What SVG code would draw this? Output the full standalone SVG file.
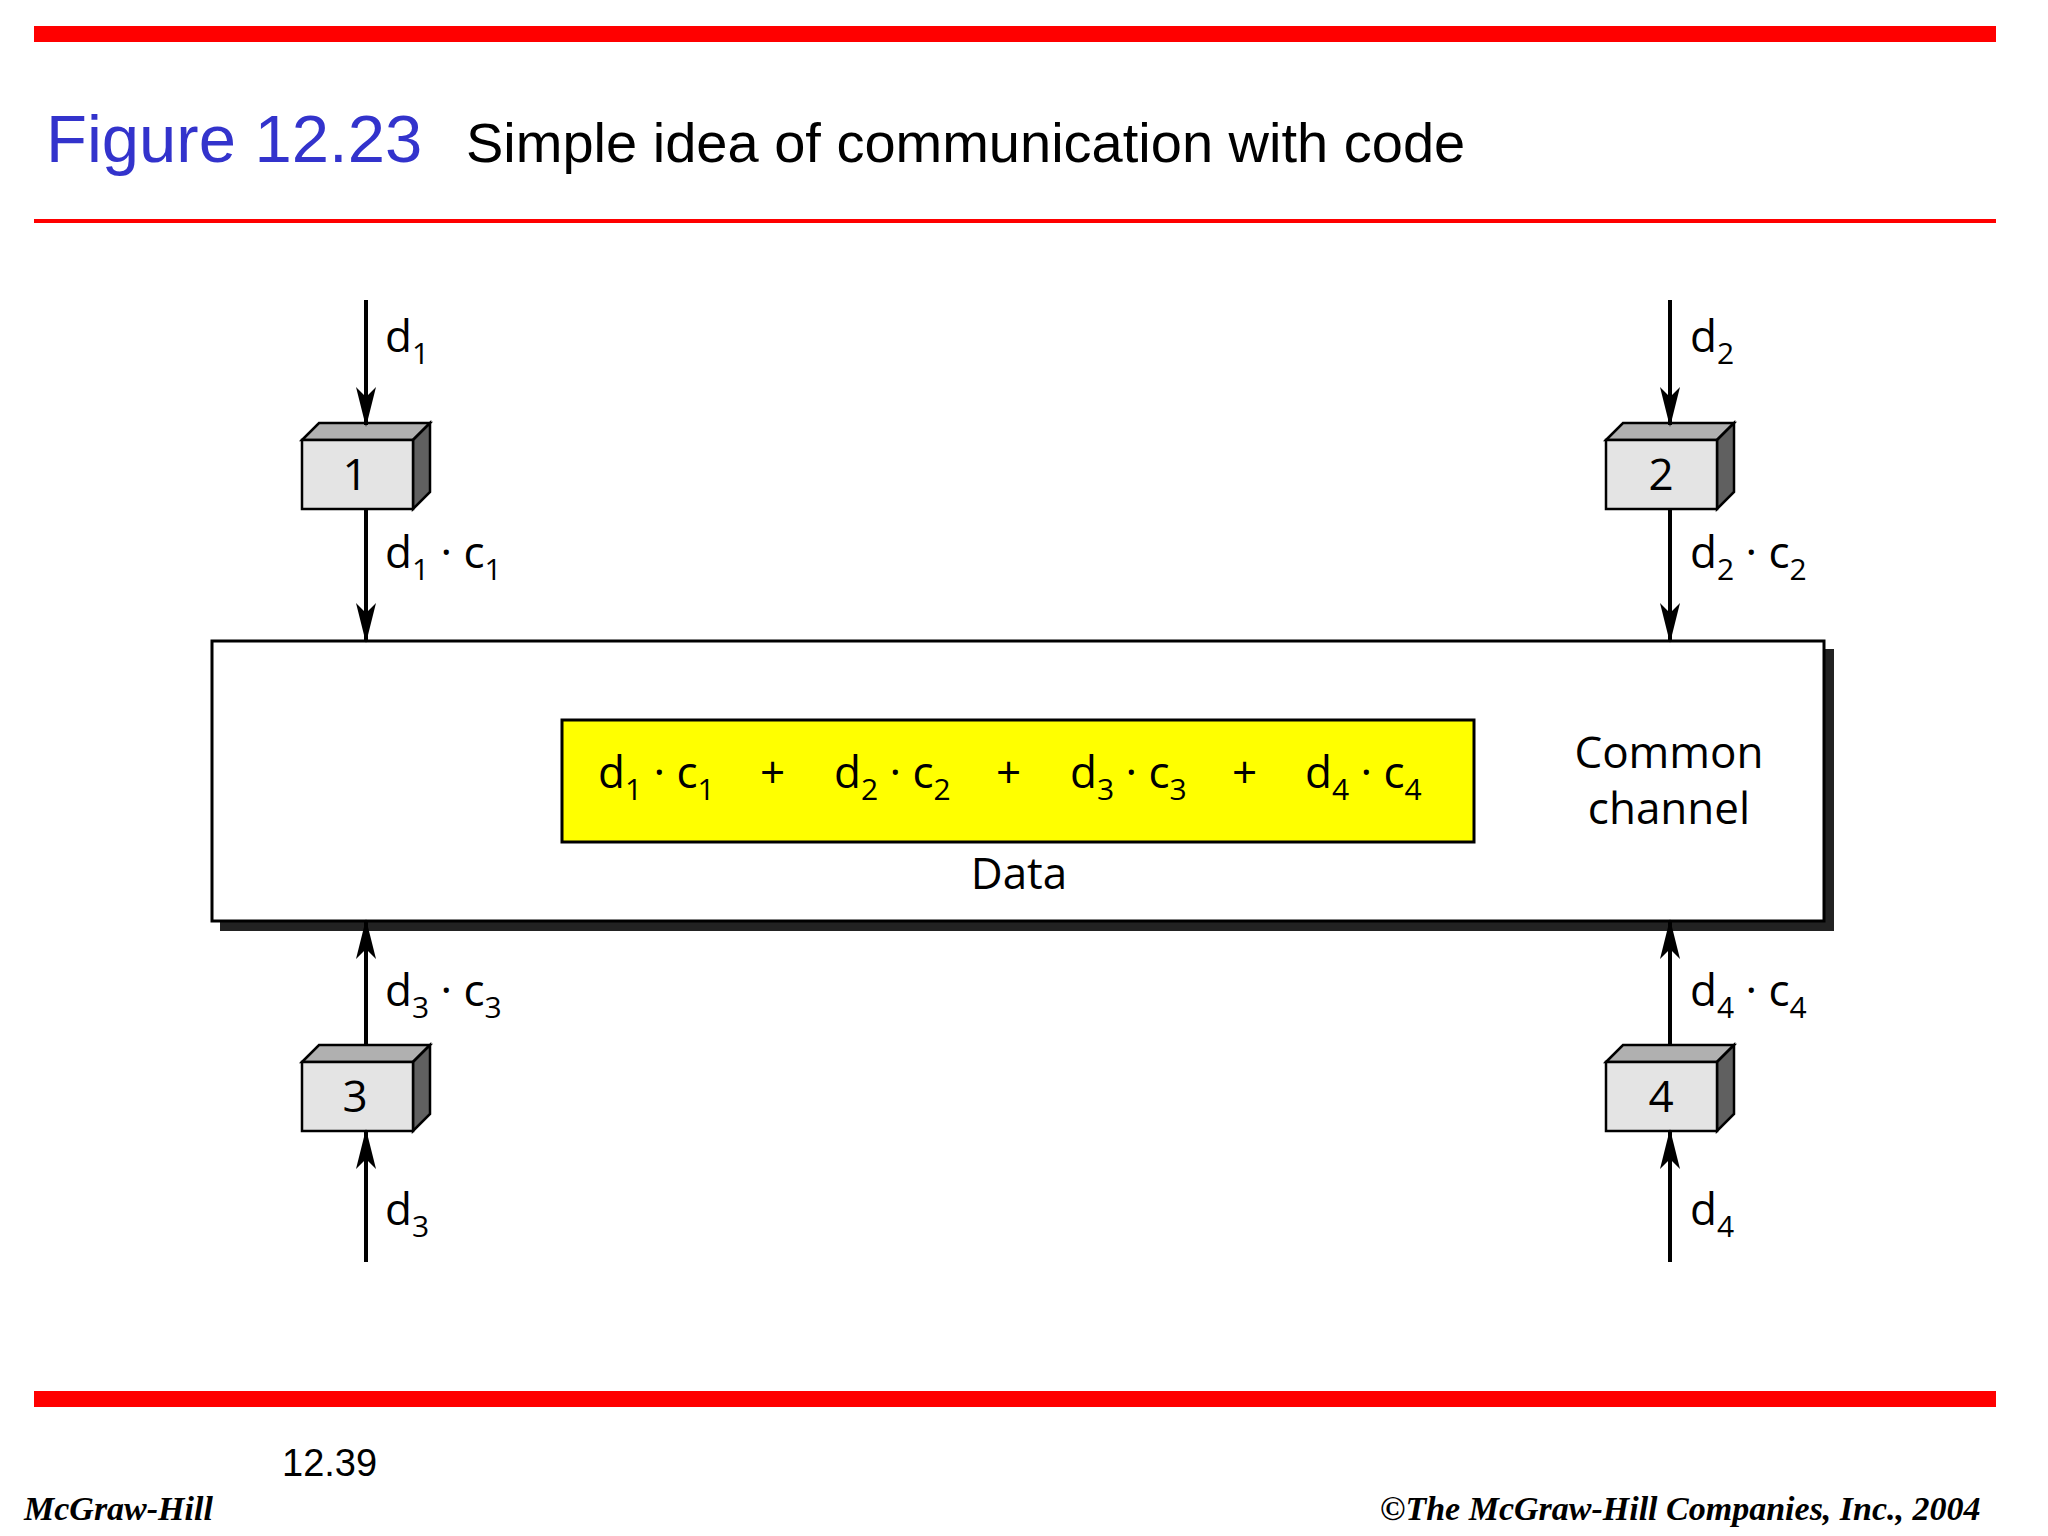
<svg xmlns="http://www.w3.org/2000/svg" width="2048" height="1536" viewBox="0 0 2048 1536">
<defs>
<marker id="ah" viewBox="0 0 40 20" refX="38" refY="10" markerWidth="40" markerHeight="20" markerUnits="userSpaceOnUse" orient="auto"><path d="M0,0 L40,10 L0,20 L10,10 Z" fill="#000"/></marker>
<style>
.t{font-family:"Open Sans","Noto Sans",sans-serif;font-size:44px;fill:#000}
.s{font-size:30px}
.ln{stroke:#000;stroke-width:4;fill:none}
.fr{fill:#e4e4e4;stroke:#000;stroke-width:2.5}
.tp{fill:#b0b0b0;stroke:#000;stroke-width:2.5}
.sd{fill:#606060;stroke:#000;stroke-width:2.5}
</style>
</defs>
<rect width="2048" height="1536" fill="#fff"/>
<rect x="34" y="26" width="1962" height="16" fill="#f00"/>
<rect x="34" y="219" width="1962" height="4" fill="#f00"/>
<rect x="34" y="1391" width="1962" height="16" fill="#f00"/>
<text x="46" y="162" font-family="Liberation Sans,Arial,sans-serif" font-size="67" fill="#3333cc">Figure 12.23</text>
<text x="466" y="162" font-family="Liberation Sans,Arial,sans-serif" font-size="56" fill="#000">Simple idea of communication with code</text>
<text x="282" y="1476" font-family="Liberation Sans,Arial,sans-serif" font-size="38" fill="#000">12.39</text>
<text x="24" y="1520" font-family="Liberation Serif,serif" font-style="italic" font-weight="bold" font-size="34" fill="#000">McGraw-Hill</text>
<text x="1380" y="1520" font-family="Liberation Serif,serif" font-style="italic" font-weight="bold" font-size="34" fill="#000">©The McGraw-Hill Companies, Inc., 2004</text>

<g id="channel">
<rect x="220" y="649" width="1614" height="282" fill="#222"/>
<rect x="212" y="641" width="1612" height="280" fill="#fff" stroke="#000" stroke-width="3"/>
<text class="t" x="1669" y="768" text-anchor="middle">Common</text>
<text class="t" x="1669" y="824" text-anchor="middle">channel</text>
</g>
<g id="data">
<rect x="562" y="720" width="912" height="122" fill="#ffff00" stroke="#000" stroke-width="3"/>
<text class="t" x="598" y="788">d<tspan class="s" dy="12">1</tspan><tspan dy="-12"> · c</tspan><tspan class="s" dy="12">1</tspan><tspan dy="-12" x="760">+</tspan><tspan x="834">d</tspan><tspan class="s" dy="12">2</tspan><tspan dy="-12"> · c</tspan><tspan class="s" dy="12">2</tspan><tspan dy="-12" x="996">+</tspan><tspan x="1070">d</tspan><tspan class="s" dy="12">3</tspan><tspan dy="-12"> · c</tspan><tspan class="s" dy="12">3</tspan><tspan dy="-12" x="1232">+</tspan><tspan x="1305">d</tspan><tspan class="s" dy="12">4</tspan><tspan dy="-12"> · c</tspan><tspan class="s" dy="12">4</tspan></text>
<text class="t" x="1019" y="889" text-anchor="middle">Data</text>
</g>

<g id="s1">
<polygon class="tp" points="302,440 319,423 430,423 413,440"/>
<polygon class="sd" points="413,440 430,423 430,492 413,509"/>
<rect class="fr" x="302" y="440" width="111" height="69"/>
<text class="t" x="355" y="490" text-anchor="middle">1</text>
</g>
<g id="s2">
<polygon class="tp" points="1606,440 1623,423 1734,423 1717,440"/>
<polygon class="sd" points="1717,440 1734,423 1734,492 1717,509"/>
<rect class="fr" x="1606" y="440" width="111" height="69"/>
<text class="t" x="1661" y="490" text-anchor="middle">2</text>
</g>
<g id="s3">
<polygon class="tp" points="302,1062 319,1045 430,1045 413,1062"/>
<polygon class="sd" points="413,1062 430,1045 430,1114 413,1131"/>
<rect class="fr" x="302" y="1062" width="111" height="69"/>
<text class="t" x="355" y="1112" text-anchor="middle">3</text>
</g>
<g id="s4">
<polygon class="tp" points="1606,1062 1623,1045 1734,1045 1717,1062"/>
<polygon class="sd" points="1717,1062 1734,1045 1734,1114 1717,1131"/>
<rect class="fr" x="1606" y="1062" width="111" height="69"/>
<text class="t" x="1661" y="1112" text-anchor="middle">4</text>
</g>

<g id="connectors">
<line class="ln" x1="366" y1="300" x2="366" y2="425" marker-end="url(#ah)"/>
<line class="ln" x1="366" y1="509" x2="366" y2="641" marker-end="url(#ah)"/>
<line class="ln" x1="1670" y1="300" x2="1670" y2="425" marker-end="url(#ah)"/>
<line class="ln" x1="1670" y1="509" x2="1670" y2="641" marker-end="url(#ah)"/>
<line class="ln" x1="366" y1="1045" x2="366" y2="921" marker-end="url(#ah)"/>
<line class="ln" x1="366" y1="1262" x2="366" y2="1131" marker-end="url(#ah)"/>
<line class="ln" x1="1670" y1="1045" x2="1670" y2="921" marker-end="url(#ah)"/>
<line class="ln" x1="1670" y1="1262" x2="1670" y2="1131" marker-end="url(#ah)"/>
<text class="t" x="385" y="352">d<tspan class="s" dy="12">1</tspan></text>
<text class="t" x="385" y="568">d<tspan class="s" dy="12">1</tspan><tspan dy="-12"> · c</tspan><tspan class="s" dy="12">1</tspan></text>
<text class="t" x="1690" y="352">d<tspan class="s" dy="12">2</tspan></text>
<text class="t" x="1690" y="568">d<tspan class="s" dy="12">2</tspan><tspan dy="-12"> · c</tspan><tspan class="s" dy="12">2</tspan></text>
<text class="t" x="385" y="1006">d<tspan class="s" dy="12">3</tspan><tspan dy="-12"> · c</tspan><tspan class="s" dy="12">3</tspan></text>
<text class="t" x="385" y="1225">d<tspan class="s" dy="12">3</tspan></text>
<text class="t" x="1690" y="1006">d<tspan class="s" dy="12">4</tspan><tspan dy="-12"> · c</tspan><tspan class="s" dy="12">4</tspan></text>
<text class="t" x="1690" y="1225">d<tspan class="s" dy="12">4</tspan></text>
</g>
</svg>
